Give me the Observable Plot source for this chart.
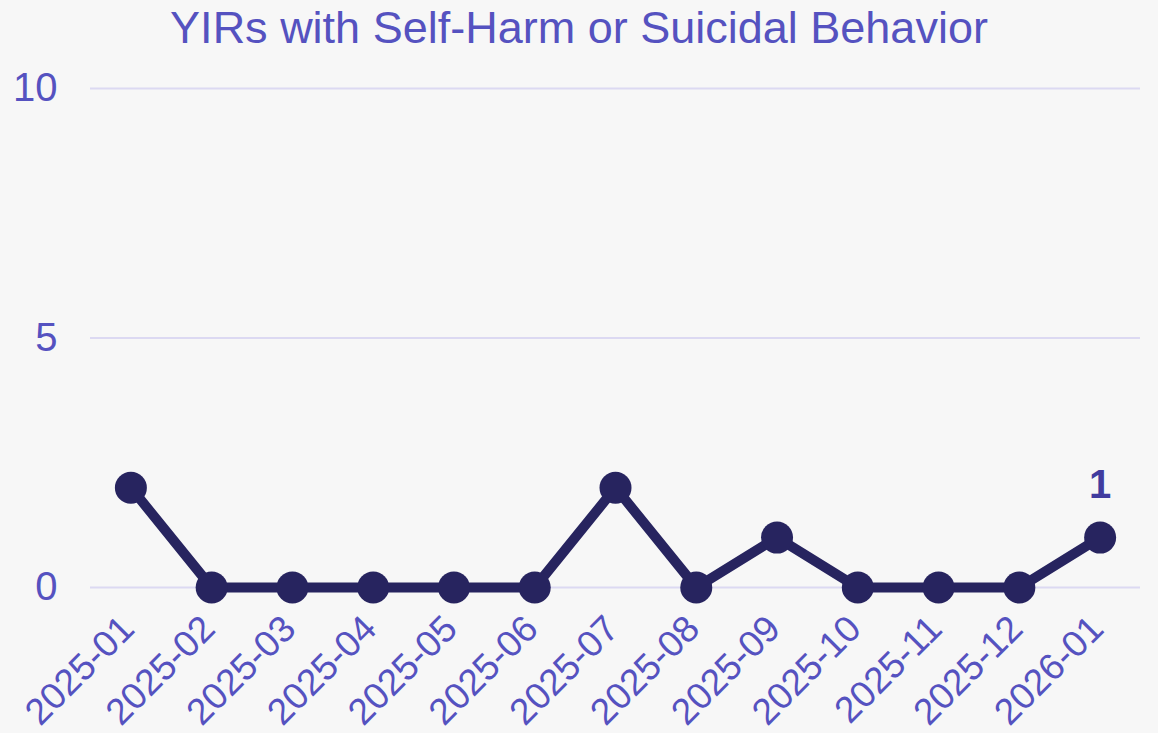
<!DOCTYPE html>
<html>
<head>
<meta charset="utf-8">
<script src="https://cdn.jsdelivr.net/npm/d3@7"></script>
<script src="https://cdn.jsdelivr.net/npm/@observablehq/plot@0.6"></script>
<style>
  html, body { margin: 0; padding: 0; background: #f7f7f7; }
  body { width: 1158px; height: 733px; overflow: hidden; font-family: "Liberation Sans", Arial, sans-serif; }
  #title { height: 55px; line-height: 55px; text-align: center; font-size: 45px; color: #5552c0; white-space: nowrap; }
  #chart svg { display: block; }
</style>
</head>
<body>
<div id="title">YIRs with Self-Harm or Suicidal Behavior</div>
<div id="chart"></div>
<script>
const months = ["2025-01","2025-02","2025-03","2025-04","2025-05","2025-06","2025-07","2025-08","2025-09","2025-10","2025-11","2025-12","2026-01"];
const counts = [2,0,0,0,0,0,2,0,1,0,0,0,1];
const yTicks = [0,5,10];

const data = months.map((m, i) => ({month: m, count: counts[i]}));
const last = data[data.length - 1];

const plot = Plot.plot({
  width: 1158,
  height: 678,
  marginTop: 33,
  marginBottom: 146,
  marginLeft: 90,
  marginRight: 18,
  style: {background: "#f7f7f7", fontFamily: "'Liberation Sans', Arial, sans-serif", fontSize: "40px", color: "#5552c0", overflow: "visible"},
  x: {type: "point", domain: months, padding: 0.5, round: false, label: null},
  y: {domain: [0, 10], label: null},
  marks: [
    Plot.gridY(yTicks, {stroke: "#dcd9f2", strokeOpacity: 1, strokeWidth: 2}),
    Plot.axisY(yTicks, {tickSize: 0, tickPadding: 33, tickFormat: "d", fill: "#5552c0", fontSize: 40, label: null}),
    Plot.axisX({tickSize: 0, tickPadding: 35, dx: -3, tickRotate: -45, fill: "#5552c0", fontSize: 37, label: null}),
    Plot.line(data, {x: "month", y: "count", stroke: "#27245f", strokeWidth: 10}),
    Plot.dot(data, {x: "month", y: "count", r: 16, fill: "#27245f", stroke: "none"}),
    Plot.text([last], {x: "month", y: "count", text: d => String(d.count), dy: -52, fill: "#413c9f", fontSize: 40, fontWeight: "bold"})
  ]
});
document.getElementById("chart").appendChild(plot);
</script>
</body>
</html>
